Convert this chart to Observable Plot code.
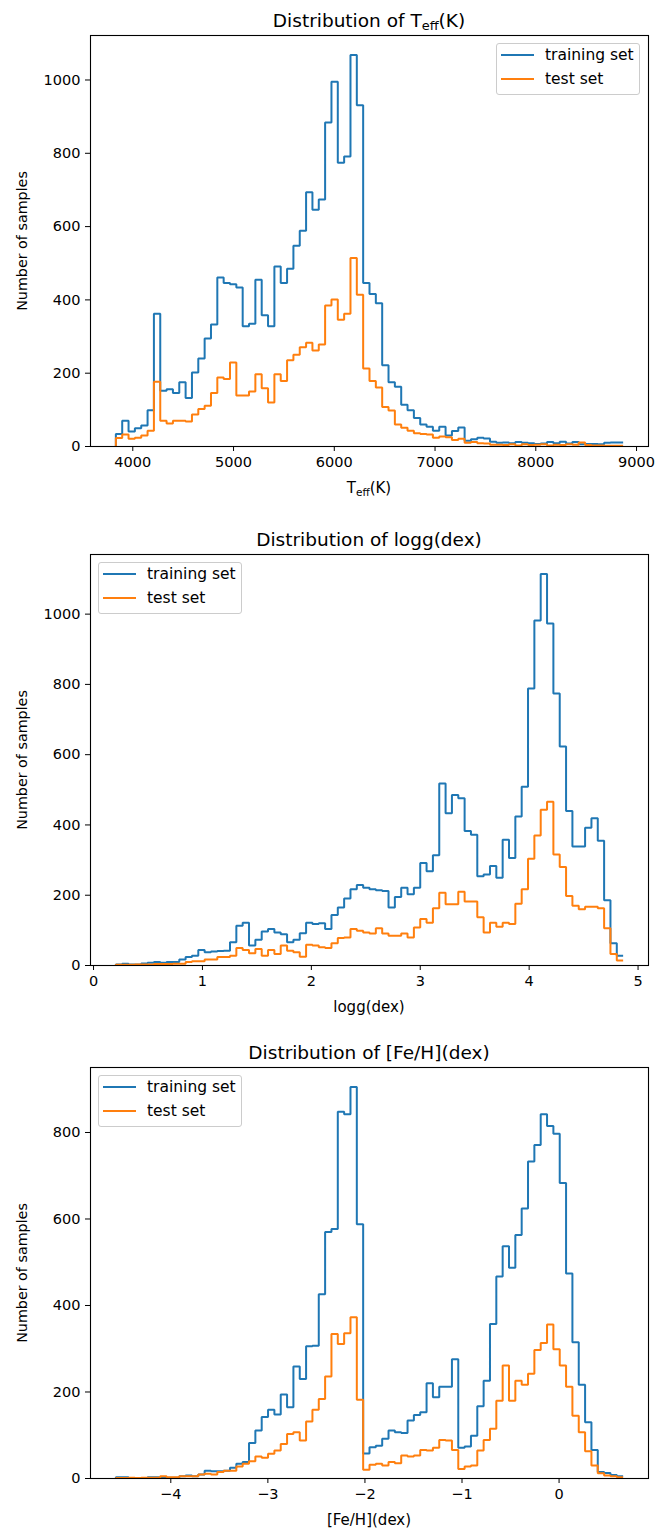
<!DOCTYPE html>
<html>
<head>
<meta charset="utf-8">
<script src="https://cdn.jsdelivr.net/npm/d3@7"></script>
<script src="https://cdn.jsdelivr.net/npm/@observablehq/plot@0.6"></script>
<style>
  html, body { margin: 0; padding: 0; background: #fff; }
  #fig { position: relative; width: 671px; height: 1528px; font-family: "DejaVu Sans", sans-serif; color: #000; overflow: hidden; }
  #fig > * { position: absolute; }
  .title { font-size: 18.5px; white-space: nowrap; transform: translate(-50%, -50%); }
  .xlabel { font-size: 15px; white-space: nowrap; transform: translate(-50%, -50%); }
  .ylabel { font-size: 14.3px; white-space: nowrap; transform: translate(-50%, -50%) rotate(-90deg); }
  .legend { width: 144px; height: 52px; box-sizing: border-box; border: 1px solid #ccc; border-radius: 3px; background: rgba(255,255,255,0.8); font-size: 15.5px; }
  .legend .sw { position: absolute; left: 4px; width: 33px; height: 2px; }
  .legend .lab { position: absolute; left: 48px; white-space: nowrap; transform: translateY(-50%); }
  sub { font-size: 0.7em; vertical-align: -0.3em; line-height: 0; }
</style>
</head>
<body>
<div id="fig"></div>
<script>
// Histogram counts per bin (80 equal-width bins between the listed limits)
const teffRange = [3832, 8867];
const teffTrain = [34, 70, 41, 50, 57, 99, 362, 152, 156, 146, 175, 132, 202, 240, 295, 333, 461, 446, 443, 434,
  328, 335, 455, 358, 328, 491, 446, 485, 548, 589, 694, 646, 674, 884, 995, 774, 791, 1068, 931, 446,
  416, 391, 222, 175, 163, 114, 99, 78, 60, 54, 43, 54, 30, 42, 52, 16, 20, 24, 22, 13,
  10, 11, 9, 12, 10, 9, 7, 8, 12, 9, 13, 8, 12, 6, 7, 7, 6, 10, 11, 11];
const teffTest = [23, 33, 21, 24, 30, 43, 177, 70, 63, 70, 70, 68, 87, 102, 111, 146, 188, 184, 229, 139,
  139, 150, 197, 159, 120, 197, 179, 235, 250, 271, 283, 262, 278, 385, 401, 346, 362, 514, 414, 213,
  179, 161, 108, 98, 60, 51, 43, 36, 34, 33, 24, 27, 25, 18, 21, 10, 12, 9, 8, 5,
  5, 4, 6, 3, 6, 4, 5, 6, 3, 5, 4, 6, 5, 11, 4, 3, 3, 2, 2, 2];

const loggRange = [0.205, 4.863];
const loggTrain = [3, 5, 3, 3, 6, 8, 10, 8, 10, 10, 17, 24, 28, 44, 38, 40, 41, 42, 66, 113,
  122, 57, 73, 97, 104, 94, 89, 66, 73, 92, 122, 118, 120, 104, 144, 165, 191, 217, 229, 221,
  217, 214, 212, 165, 195, 221, 203, 221, 292, 268, 314, 518, 433, 485, 476, 383, 372, 254, 259, 283,
  250, 358, 306, 424, 509, 788, 982, 1114, 973, 774, 623, 440, 339, 339, 392, 419, 355, 186, 63, 28];
const loggTest = [2, 2, 2, 3, 3, 3, 4, 4, 4, 5, 5, 10, 12, 12, 17, 17, 24, 24, 28, 50,
  44, 35, 47, 28, 44, 33, 57, 42, 38, 25, 59, 57, 52, 50, 63, 78, 80, 104, 99, 94,
  91, 106, 91, 85, 85, 91, 80, 108, 132, 122, 163, 207, 174, 174, 210, 182, 182, 137, 94, 122,
  110, 122, 118, 176, 217, 304, 370, 443, 466, 316, 280, 198, 170, 160, 167, 167, 163, 106, 33, 14];

const fehRange = [-4.566, 0.66];
const fehTrain = [3, 3, 1, 1, 1, 3, 3, 2, 2, 2, 5, 7, 5, 9, 18, 17, 17, 18, 25, 34,
  38, 82, 111, 142, 159, 148, 194, 165, 259, 230, 306, 307, 426, 570, 577, 848, 842, 905, 588, 58,
  72, 76, 92, 111, 107, 105, 134, 147, 153, 220, 188, 212, 212, 276, 71, 74, 99, 167, 226, 357,
  467, 537, 487, 563, 624, 733, 771, 842, 815, 797, 683, 474, 315, 217, 130, 66, 15, 13, 8, 5];
const fehTest = [1, 1, 2, 1, 2, 2, 2, 5, 3, 3, 5, 5, 5, 9, 11, 9, 15, 18, 18, 28,
  34, 40, 51, 48, 57, 65, 80, 103, 107, 88, 132, 159, 184, 236, 334, 311, 336, 373, 182, 20,
  32, 34, 30, 38, 35, 53, 51, 53, 66, 65, 71, 89, 88, 66, 22, 28, 30, 65, 89, 115,
  180, 261, 180, 226, 217, 242, 297, 313, 356, 299, 261, 212, 145, 107, 63, 30, 12, 7, 5, 3];

const teffTicks = [4000, 5000, 6000, 7000, 8000, 9000];
const loggTicks = [0, 1, 2, 3, 4, 5];
const fehTicks = [-4, -3, -2, -1, 0];
const countTicks = [0, 200, 400, 600, 800, 1000];
const fehCountTicks = [0, 200, 400, 600, 800];

const seriesNames = ["training set", "test set"];
const seriesColors = ["#1f77b4", "#ff7f0e"];

// Outline of a step histogram: rises from the baseline at the first edge,
// runs along each bin top, and stops at the last edge without closing.
function stepOutline(counts, [lo, hi]) {
  const w = (hi - lo) / counts.length;
  const pts = [{x: lo, y: 0}];
  counts.forEach((c, i) => {
    pts.push({x: lo + i * w, y: c}, {x: lo + (i + 1) * w, y: c});
  });
  return pts;
}

const fig = document.getElementById("fig");
const W = 671, ML = 90, MR = 23, FH = 411, MT = 10, MB = 48;
const cx = ML + (W - ML - MR) / 2;

function addDiv(cls, html, style) {
  const d = document.createElement("div");
  d.className = cls;
  d.innerHTML = html;
  Object.assign(d.style, style);
  fig.appendChild(d);
  return d;
}

function panel({top, title, xlabel, range, train, test, xTicks, yTicks, legendLeft}) {
  const pad = (range[1] - range[0]) * 0.05;
  const yMax = d3.max([...train, ...test]) * 1.05;
  const svg = Plot.plot({
    width: W,
    height: MT + FH + MB,
    marginLeft: ML, marginRight: MR, marginTop: MT, marginBottom: MB,
    style: {fontFamily: "DejaVu Sans, sans-serif", fontSize: "14.5px", color: "#000", background: "transparent", overflow: "visible"},
    x: {domain: [range[0] - pad, range[1] + pad], ticks: xTicks, tickFormat: d3.format("d"), tickSize: 5, tickPadding: 5, label: null},
    y: {domain: [0, yMax], ticks: yTicks, tickFormat: d3.format("d"), tickSize: 5, tickPadding: 5, label: null},
    marks: [
      Plot.line(stepOutline(train, range), {x: "x", y: "y", stroke: seriesColors[0], strokeWidth: 2, strokeLinejoin: "miter", strokeLinecap: "butt"}),
      Plot.line(stepOutline(test, range), {x: "x", y: "y", stroke: seriesColors[1], strokeWidth: 2, strokeLinejoin: "miter", strokeLinecap: "butt"}),
      Plot.frame({stroke: "#000", strokeWidth: 1.1})
    ]
  });
  svg.style.position = "absolute";
  svg.style.left = "0px";
  svg.style.top = (top - MT) + "px";
  fig.appendChild(svg);

  addDiv("title", title, {left: cx + "px", top: (top - 15) + "px"});
  addDiv("xlabel", xlabel, {left: cx + "px", top: (top + FH + 42) + "px"});
  addDiv("ylabel", "Number of samples", {left: "22px", top: (top + FH / 2) + "px"});

  const lg = addDiv("legend", "", {left: legendLeft + "px", top: (top + 8) + "px"});
  seriesNames.forEach((name, i) => {
    const y = 11 + i * 23.5;
    const sw = document.createElement("div");
    sw.className = "sw";
    sw.style.top = (y - 1) + "px";
    sw.style.background = seriesColors[i];
    lg.appendChild(sw);
    const lab = document.createElement("div");
    lab.className = "lab";
    lab.style.top = y + "px";
    lab.textContent = name;
    lg.appendChild(lab);
  });
}

panel({top: 35, title: "Distribution of T<sub>eff</sub>(K)", xlabel: "T<sub>eff</sub>(K)",
  range: teffRange, train: teffTrain, test: teffTest, xTicks: teffTicks, yTicks: countTicks, legendLeft: 496});
panel({top: 554, title: "Distribution of logg(dex)", xlabel: "logg(dex)",
  range: loggRange, train: loggTrain, test: loggTest, xTicks: loggTicks, yTicks: countTicks, legendLeft: 98});
panel({top: 1067, title: "Distribution of [Fe/H](dex)", xlabel: "[Fe/H](dex)",
  range: fehRange, train: fehTrain, test: fehTest, xTicks: fehTicks, yTicks: fehCountTicks, legendLeft: 98});
</script>
</body>
</html>
